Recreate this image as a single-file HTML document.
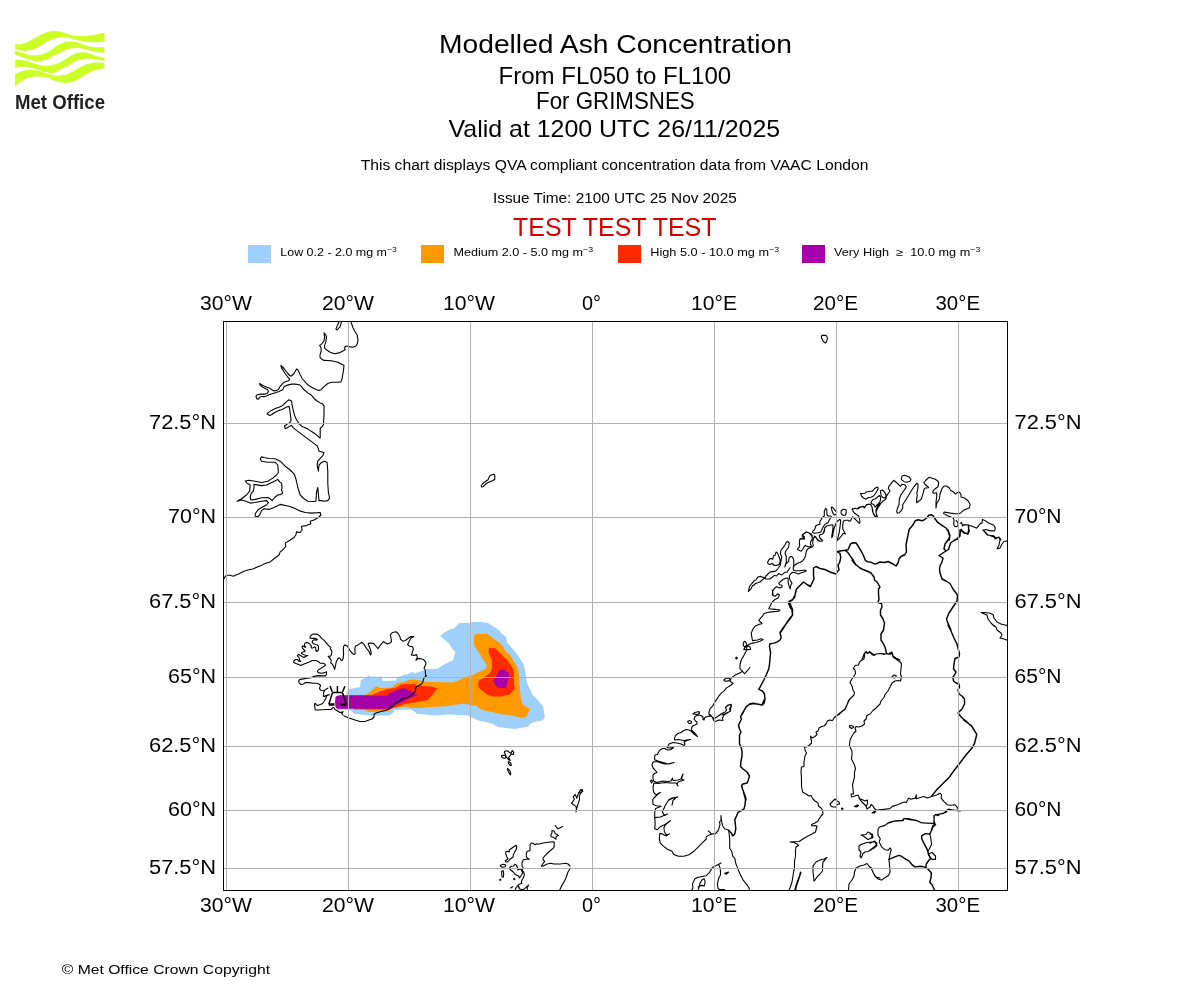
<!DOCTYPE html>
<html><head><meta charset="utf-8"><style>
html,body{margin:0;padding:0;background:#fff;}
body{width:1200px;height:1000px;overflow:hidden;position:relative;}
svg{position:absolute;left:0;top:0;font-family:"Liberation Sans", sans-serif;will-change:transform;}
</style></head><body>
<svg width="1200" height="1000" viewBox="0 0 1200 1000">
<g fill="#cbff26"><path d="M15.1 44.1C15.82 44.15 17.85 44.55 19.40 44.40C20.95 44.25 22.73 43.77 24.40 43.20C26.07 42.63 27.75 41.77 29.40 41.00C31.05 40.23 32.65 39.50 34.30 38.60C35.95 37.70 37.63 36.48 39.30 35.60C40.97 34.72 42.65 34.00 44.30 33.30C45.95 32.60 47.55 31.77 49.20 31.40C50.85 31.03 52.55 31.10 54.20 31.10C55.85 31.10 57.63 31.20 59.10 31.40C60.57 31.60 61.53 31.88 63.00 32.30C64.47 32.72 66.25 33.38 67.90 33.90C69.55 34.42 71.23 35.03 72.90 35.40C74.57 35.77 76.25 35.98 77.90 36.10C79.55 36.22 81.15 36.15 82.80 36.10C84.45 36.05 86.15 35.97 87.80 35.80C89.45 35.63 91.05 35.37 92.70 35.10C94.35 34.83 96.25 34.50 97.70 34.20C99.15 33.90 100.27 33.55 101.40 33.30C102.53 33.05 103.98 32.80 104.50 32.70L104.5 41.3C103.78 41.42 101.75 41.83 100.20 42.00C98.65 42.17 96.85 42.25 95.20 42.30C93.55 42.35 91.95 42.42 90.30 42.30C88.65 42.18 86.97 41.87 85.30 41.60C83.63 41.33 81.95 41.05 80.30 40.70C78.65 40.35 77.05 39.92 75.40 39.50C73.75 39.08 72.07 38.57 70.40 38.20C68.73 37.83 67.05 37.45 65.40 37.30C63.75 37.15 61.55 37.27 60.50 37.30C59.45 37.33 60.15 37.23 59.10 37.50C58.05 37.77 55.85 38.42 54.20 38.90C52.55 39.38 50.85 39.68 49.20 40.40C47.55 41.12 45.95 42.17 44.30 43.20C42.65 44.23 40.97 45.62 39.30 46.60C37.63 47.58 35.95 48.48 34.30 49.10C32.65 49.72 31.05 49.98 29.40 50.30C27.75 50.62 26.07 51.00 24.40 51.00C22.73 51.00 20.95 50.62 19.40 50.30C17.85 49.98 15.82 49.30 15.10 49.10Z"/><path d="M15.1 50.6C15.82 50.82 17.85 51.43 19.40 51.90C20.95 52.37 22.73 52.93 24.40 53.40C26.07 53.87 27.75 54.38 29.40 54.70C31.05 55.02 32.65 55.25 34.30 55.30C35.95 55.35 37.63 55.32 39.30 55.00C40.97 54.68 42.65 54.07 44.30 53.40C45.95 52.73 47.55 51.92 49.20 51.00C50.85 50.08 52.73 48.95 54.20 47.90C55.67 46.85 56.53 45.53 58.00 44.70C59.47 43.87 61.35 43.42 63.00 42.90C64.65 42.38 66.25 41.82 67.90 41.60C69.55 41.38 71.23 41.43 72.90 41.60C74.57 41.77 76.25 42.13 77.90 42.60C79.55 43.07 81.15 43.83 82.80 44.40C84.45 44.97 86.15 45.58 87.80 46.00C89.45 46.42 91.05 46.70 92.70 46.90C94.35 47.10 96.25 47.15 97.70 47.20C99.15 47.25 100.27 47.20 101.40 47.20C102.53 47.20 103.98 47.20 104.50 47.20L104.5 52.8C103.78 52.75 101.75 52.65 100.20 52.50C98.65 52.35 96.85 52.22 95.20 51.90C93.55 51.58 91.95 51.02 90.30 50.60C88.65 50.18 86.97 49.80 85.30 49.40C83.63 49.00 81.95 48.45 80.30 48.20C78.65 47.95 77.05 47.85 75.40 47.90C73.75 47.95 72.07 48.10 70.40 48.50C68.73 48.90 67.05 49.58 65.40 50.30C63.75 51.02 61.73 52.17 60.50 52.80C59.27 53.43 59.05 53.68 58.00 54.10C56.95 54.52 55.67 54.58 54.20 55.30C52.73 56.02 50.85 57.57 49.20 58.40C47.55 59.23 45.95 59.83 44.30 60.30C42.65 60.77 40.97 61.10 39.30 61.20C37.63 61.30 35.95 61.17 34.30 60.90C32.65 60.63 31.05 60.12 29.40 59.60C27.75 59.08 26.07 58.42 24.40 57.80C22.73 57.18 20.95 56.42 19.40 55.90C17.85 55.38 15.82 54.90 15.10 54.70Z"/><path d="M15.1 59.9C15.82 59.90 17.85 59.78 19.40 59.90C20.95 60.02 22.73 60.28 24.40 60.60C26.07 60.92 27.75 61.33 29.40 61.80C31.05 62.27 32.65 62.88 34.30 63.40C35.95 63.92 37.63 64.50 39.30 64.90C40.97 65.30 42.65 65.65 44.30 65.80C45.95 65.95 47.55 66.00 49.20 65.80C50.85 65.60 52.73 65.02 54.20 64.60C55.67 64.18 56.53 63.92 58.00 63.30C59.47 62.68 61.35 61.87 63.00 60.90C64.65 59.93 66.25 58.53 67.90 57.50C69.55 56.47 71.23 55.48 72.90 54.70C74.57 53.92 76.25 53.22 77.90 52.80C79.55 52.38 81.15 52.20 82.80 52.20C84.45 52.20 86.15 52.38 87.80 52.80C89.45 53.22 91.05 54.08 92.70 54.70C94.35 55.32 96.25 56.03 97.70 56.50C99.15 56.97 100.27 57.28 101.40 57.50C102.53 57.72 103.98 57.75 104.50 57.80L104.5 60.9C103.78 60.80 101.75 60.57 100.20 60.30C98.65 60.03 96.85 59.57 95.20 59.30C93.55 59.03 91.95 58.80 90.30 58.70C88.65 58.60 86.97 58.55 85.30 58.70C83.63 58.85 81.95 59.13 80.30 59.60C78.65 60.07 77.05 60.72 75.40 61.50C73.75 62.28 72.07 63.37 70.40 64.30C68.73 65.23 67.05 66.22 65.40 67.10C63.75 67.98 61.73 68.98 60.50 69.60C59.27 70.22 59.05 70.28 58.00 70.80C56.95 71.32 55.67 72.38 54.20 72.70C52.73 73.02 50.85 72.87 49.20 72.70C47.55 72.53 45.95 72.12 44.30 71.70C42.65 71.28 40.97 70.72 39.30 70.20C37.63 69.68 35.95 69.07 34.30 68.60C32.65 68.13 31.05 67.70 29.40 67.40C27.75 67.10 26.07 66.85 24.40 66.80C22.73 66.75 20.95 66.85 19.40 67.10C17.85 67.35 15.82 68.10 15.10 68.30Z"/><path d="M15.1 74.2C15.82 73.83 17.85 72.62 19.40 72.00C20.95 71.38 22.73 70.85 24.40 70.50C26.07 70.15 27.75 69.95 29.40 69.90C31.05 69.85 32.65 70.00 34.30 70.20C35.95 70.40 37.63 70.68 39.30 71.10C40.97 71.52 42.65 72.18 44.30 72.70C45.95 73.22 47.55 73.73 49.20 74.20C50.85 74.67 52.73 75.23 54.20 75.50C55.67 75.77 56.53 75.87 58.00 75.80C59.47 75.73 61.35 75.42 63.00 75.10C64.65 74.78 66.25 74.52 67.90 73.90C69.55 73.28 71.23 72.33 72.90 71.40C74.57 70.47 76.25 69.23 77.90 68.30C79.55 67.37 81.15 66.52 82.80 65.80C84.45 65.08 86.15 64.52 87.80 64.00C89.45 63.48 91.05 62.97 92.70 62.70C94.35 62.43 96.25 62.40 97.70 62.40C99.15 62.40 100.27 62.53 101.40 62.70C102.53 62.87 103.98 63.28 104.50 63.40L104.5 68.3C103.78 68.40 101.75 68.58 100.20 68.90C98.65 69.22 96.85 69.68 95.20 70.20C93.55 70.72 91.95 71.18 90.30 72.00C88.65 72.82 86.97 74.07 85.30 75.10C83.63 76.13 81.95 77.27 80.30 78.20C78.65 79.13 77.05 80.02 75.40 80.70C73.75 81.38 72.07 81.93 70.40 82.30C68.73 82.67 67.05 82.90 65.40 82.90C63.75 82.90 61.73 82.47 60.50 82.30C59.27 82.13 59.05 82.20 58.00 81.90C56.95 81.60 55.67 81.12 54.20 80.50C52.73 79.88 50.85 78.78 49.20 78.20C47.55 77.62 45.95 77.30 44.30 77.00C42.65 76.70 40.97 76.45 39.30 76.40C37.63 76.35 35.95 76.50 34.30 76.70C32.65 76.90 31.05 77.13 29.40 77.60C27.75 78.07 26.07 78.67 24.40 79.50C22.73 80.33 20.95 81.37 19.40 82.60C17.85 83.83 15.82 86.18 15.10 86.90Z"/></g><text x="15" y="108.9" font-size="21" font-weight="bold" fill="#231f20" textLength="90" lengthAdjust="spacingAndGlyphs">Met Office</text>
<text x="439.0" y="53.0" font-size="26.0" text-anchor="start" fill="#000" textLength="353.0" lengthAdjust="spacingAndGlyphs">Modelled Ash Concentration</text><text x="498.45" y="84.0" font-size="23.6" text-anchor="start" fill="#000" textLength="232.75" lengthAdjust="spacingAndGlyphs">From FL050 to FL100</text><text x="536.0" y="109.28" font-size="23.6" text-anchor="start" fill="#000" textLength="158.7" lengthAdjust="spacingAndGlyphs">For GRIMSNES</text><text x="448.5" y="136.64" font-size="23.6" text-anchor="start" fill="#000" textLength="331.7" lengthAdjust="spacingAndGlyphs">Valid at 1200 UTC 26/11/2025</text><text x="360.7" y="170.42" font-size="13.8" text-anchor="start" fill="#000" textLength="507.8" lengthAdjust="spacingAndGlyphs">This chart displays QVA compliant concentration data from VAAC London</text><text x="493.0" y="203.42" font-size="13.8" text-anchor="start" fill="#000" textLength="243.7" lengthAdjust="spacingAndGlyphs">Issue Time: 2100 UTC 25 Nov 2025</text><text x="513.0" y="236.42" font-size="25.2" text-anchor="start" fill="#d90000" textLength="203.5" lengthAdjust="spacingAndGlyphs">TEST TEST TEST</text><text x="61.75" y="974.42" font-size="13.4" text-anchor="start" fill="#000" textLength="208.25" lengthAdjust="spacingAndGlyphs">© Met Office Crown Copyright</text><text x="200.0" y="309.96" font-size="19.6" text-anchor="start" fill="#000" textLength="52.0" lengthAdjust="spacingAndGlyphs">30°W</text><text x="200.0" y="911.96" font-size="19.6" text-anchor="start" fill="#000" textLength="52.0" lengthAdjust="spacingAndGlyphs">30°W</text><text x="322.0" y="309.96" font-size="19.6" text-anchor="start" fill="#000" textLength="52.0" lengthAdjust="spacingAndGlyphs">20°W</text><text x="322.0" y="911.96" font-size="19.6" text-anchor="start" fill="#000" textLength="52.0" lengthAdjust="spacingAndGlyphs">20°W</text><text x="443.0" y="309.96" font-size="19.6" text-anchor="start" fill="#000" textLength="52.0" lengthAdjust="spacingAndGlyphs">10°W</text><text x="443.0" y="911.96" font-size="19.6" text-anchor="start" fill="#000" textLength="52.0" lengthAdjust="spacingAndGlyphs">10°W</text><text x="582.0" y="309.96" font-size="19.6" text-anchor="start" fill="#000" textLength="19.0" lengthAdjust="spacingAndGlyphs">0°</text><text x="582.0" y="911.96" font-size="19.6" text-anchor="start" fill="#000" textLength="19.0" lengthAdjust="spacingAndGlyphs">0°</text><text x="691.0" y="309.96" font-size="19.6" text-anchor="start" fill="#000" textLength="46.0" lengthAdjust="spacingAndGlyphs">10°E</text><text x="691.0" y="911.96" font-size="19.6" text-anchor="start" fill="#000" textLength="46.0" lengthAdjust="spacingAndGlyphs">10°E</text><text x="813.0" y="309.96" font-size="19.6" text-anchor="start" fill="#000" textLength="45.0" lengthAdjust="spacingAndGlyphs">20°E</text><text x="813.0" y="911.96" font-size="19.6" text-anchor="start" fill="#000" textLength="45.0" lengthAdjust="spacingAndGlyphs">20°E</text><text x="935.5" y="309.96" font-size="19.6" text-anchor="start" fill="#000" textLength="44.5" lengthAdjust="spacingAndGlyphs">30°E</text><text x="935.5" y="911.96" font-size="19.6" text-anchor="start" fill="#000" textLength="44.5" lengthAdjust="spacingAndGlyphs">30°E</text><text x="149.0" y="428.98" font-size="19.6" text-anchor="start" fill="#000" textLength="67.0" lengthAdjust="spacingAndGlyphs">72.5°N</text><text x="1014.5" y="428.98" font-size="19.6" text-anchor="start" fill="#000" textLength="67.0" lengthAdjust="spacingAndGlyphs">72.5°N</text><text x="168.0" y="522.98" font-size="19.6" text-anchor="start" fill="#000" textLength="48.0" lengthAdjust="spacingAndGlyphs">70°N</text><text x="1014.5" y="522.98" font-size="19.6" text-anchor="start" fill="#000" textLength="47.0" lengthAdjust="spacingAndGlyphs">70°N</text><text x="149.0" y="607.98" font-size="19.6" text-anchor="start" fill="#000" textLength="67.0" lengthAdjust="spacingAndGlyphs">67.5°N</text><text x="1014.5" y="607.98" font-size="19.6" text-anchor="start" fill="#000" textLength="67.0" lengthAdjust="spacingAndGlyphs">67.5°N</text><text x="168.0" y="682.98" font-size="19.6" text-anchor="start" fill="#000" textLength="48.0" lengthAdjust="spacingAndGlyphs">65°N</text><text x="1014.5" y="682.98" font-size="19.6" text-anchor="start" fill="#000" textLength="47.0" lengthAdjust="spacingAndGlyphs">65°N</text><text x="149.0" y="751.98" font-size="19.6" text-anchor="start" fill="#000" textLength="67.0" lengthAdjust="spacingAndGlyphs">62.5°N</text><text x="1014.5" y="751.98" font-size="19.6" text-anchor="start" fill="#000" textLength="67.0" lengthAdjust="spacingAndGlyphs">62.5°N</text><text x="168.0" y="815.98" font-size="19.6" text-anchor="start" fill="#000" textLength="48.0" lengthAdjust="spacingAndGlyphs">60°N</text><text x="1014.5" y="815.98" font-size="19.6" text-anchor="start" fill="#000" textLength="47.0" lengthAdjust="spacingAndGlyphs">60°N</text><text x="149.0" y="873.98" font-size="19.6" text-anchor="start" fill="#000" textLength="67.0" lengthAdjust="spacingAndGlyphs">57.5°N</text><text x="1014.5" y="873.98" font-size="19.6" text-anchor="start" fill="#000" textLength="67.0" lengthAdjust="spacingAndGlyphs">57.5°N</text>
<rect x="248" y="245" width="23" height="18" fill="#9fd0fc"/><text x="280.3" y="255.9" font-size="10.6" textLength="116.6" lengthAdjust="spacingAndGlyphs" style="white-space:pre">Low 0.2 - 2.0 mg m<tspan dy="-4.2" font-size="7.4">−3</tspan></text><rect x="421" y="245" width="23" height="18" fill="#ff9900"/><text x="453.5" y="255.9" font-size="10.6" textLength="139.6" lengthAdjust="spacingAndGlyphs" style="white-space:pre">Medium 2.0 - 5.0 mg m<tspan dy="-4.2" font-size="7.4">−3</tspan></text><rect x="618" y="245" width="23" height="18" fill="#ff2a00"/><text x="650.3" y="255.9" font-size="10.6" textLength="128.8" lengthAdjust="spacingAndGlyphs" style="white-space:pre">High 5.0 - 10.0 mg m<tspan dy="-4.2" font-size="7.4">−3</tspan></text><rect x="802" y="245" width="23" height="18" fill="#a700aa"/><text x="834.0" y="255.9" font-size="10.6" textLength="146.4" lengthAdjust="spacingAndGlyphs" style="white-space:pre">Very High  ≥  10.0 mg m<tspan dy="-4.2" font-size="7.4">−3</tspan></text>
<defs><clipPath id="mapclip"><rect x="224" y="322" width="783" height="568"/></clipPath></defs>
<g clip-path="url(#mapclip)">
<path d="M347 696 L346.5 692 L349 689 L355 688 L360 687 L361 679.5 L367 677.5 L368 675 L370 676.5 L379 677 L380 676 L382 677 L382 678.5 L383 681 L396 680.5 L397 678 L401 676 L408 674 L412 672 L415 673 L419 672 L424 670 L428 669 L437 669 L443 665 L449 662 L453 660.5 L454 657 L455.5 652 L453 649.5 L450.5 646 L449 643.5 L443 638.5 L440 636 L443 633.5 L448.5 630 L454 628.5 L459.5 623 L470 623 L472 622 L481 622 L488 623 L494 627 L499 630 L501 633 L506 637 L507 642 L510 646 L515 651.5 L519 657 L524 665 L525.5 672 L526 677 L527 683 L530 689 L532 694 L536 698 L540 703 L543 706 L544 712 L545 717 L543 720 L540 721 L534 722 L530 724 L528 727 L520 728 L515 729 L506 728 L498 727 L493 724 L486 722 L480 721 L475 719 L470 717 L468 715.5 L459 715 L450 714.5 L440 715 L433 715.5 L425 714.5 L417 714 L415 712 L411 709.5 L394 710 L394 712 L389 715.5 L372 715.5 L365 715 L355 714 L351 711 L349 709.9 L337 709.9 L337 696Z" fill="#9fd0fc"/><path d="M364 695 L367 694 L370 692 L374 688 L376 686.5 L377 686.5 L380 688 L385 688 L392 687.5 L395 684.5 L397 683 L404 682 L410 679.5 L415 679.5 L422 681 L425 682 L430 682 L453 682.5 L457 681 L461 679 L467 676.5 L470 676 L473 675 L477 672.5 L482 670.5 L484.5 669.5 L487 666 L486.5 665 L484 661 L482 658 L480 654 L477 650 L474 645 L474 636 L476 634 L487.5 634 L490 636 L494 639 L500 643 L503 647 L506 652 L510 655 L513 660 L516 665 L518 670 L519 675 L519 677 L520 690 L521 700 L523 705 L530 709 L529 711 L526 717 L523 718 L516 716.5 L512 715.5 L500 714 L492 712 L486 711 L480 709 L476 705.5 L472 705.5 L470 705 L463 703.5 L461 704 L453 705 L445 706.5 L440 706.5 L425 707.5 L421 708 L412 708 L405 706.5 L395 708 L391 709 L390 710 L389 711.5 L381 712 L371 712 L367 711.5 L366 710 L365 709Z" fill="#ff9900"/><path d="M338 694.9 L372 694.9 L374 694 L381 691 L385 690 L387 689 L395 688 L398 686.5 L401 684.5 L405 684 L412 684 L415 684 L418 686 L424 686 L431 686.5 L438 688.5 L435 691 L433 694 L428 700 L420 701.5 L405 704 L400 706 L393 708 L389 709.6 L354 709.6 L354 708.5 L340 696Z" fill="#ff2a00"/><path d="M489 648 L495 648 L500 653 L507 660 L510 664 L513 669 L514 675 L514 685 L515 688.5 L509 695 L504 695.5 L502 696.5 L493 696.5 L488 695 L485 693 L479 688 L478 685 L479 680 L482 679 L486 676 L490 673 L491.5 670 L492 665 L492 661 L490 656 L488.5 652Z" fill="#ff2a00"/><path d="M337 695.8 L387 695.8 L390 693 L395 691 L401 688.5 L405 688.5 L408 690 L412 692 L415 694 L418 695.3 L415 696 L408 699 L403 702 L395 705 L389 708.8 L337 708.8 L335.5 707 L335 702 L335.5 697Z" fill="#a700aa"/><path d="M500 669.5 L504.5 669.5 L509 673.5 L509 678 L507.5 681 L507 685 L505 688 L498 688 L494 683 L493 680.5 L496.5 676 L499 671Z" fill="#a700aa"/>
<path d="M350.9 321.6 L352.8 327.2 L354.6 331.0 L357.1 334.8 L358.0 339.8 L357.5 343.5 L355.9 346.0 L352.8 347.2 L349.0 346.6 L347.1 346.0 L345.2 346.6 L344.6 348.5 L345.2 349.8 L342.8 351.0 L339.0 352.9 L334.6 353.8 L330.2 352.2 L326.5 349.8 L324.6 347.9 L324.6 345.4 L325.9 341.6 L326.5 336.6 L325.2 334.1 L324.0 332.9 L324.6 337.2 L324.0 341.0 L321.5 344.1 L319.6 345.4 L320.9 347.2 L321.2 351.0 L320.0 354.8 L320.0 357.2 L321.5 359.1 L324.0 360.4 L331.5 360.8 L337.8 362.2 L344.0 365.4 L343.4 371.0 L342.1 378.5 L340.9 381.9 L336.5 382.2 L331.5 382.2 L327.8 383.5 L324.0 386.6 L320.9 389.8 L319.0 390.4 L316.5 389.8 L311.5 387.2 L307.8 384.8 L302.1 378.5 L300.2 374.8 L297.8 369.8 L296.5 369.1 L294.0 373.5 L291.5 376.0 L290.2 376.0 L287.8 373.5 L284.0 368.5 L280.9 365.4 L281.5 367.9 L285.2 373.5 L287.8 377.2 L289.6 379.1 L289.0 380.4 L284.0 382.2 L281.5 384.8 L279.6 387.2 L278.4 389.5 L276.5 390.4 L274.0 391.0 L271.5 389.5 L269.0 387.9 L264.0 386.0 L260.2 384.1 L259.6 383.5 L260.2 385.4 L262.8 387.2 L267.8 389.8 L268.4 391.6 L267.1 393.5 L265.2 394.1 L260.9 394.1 L257.1 394.8 L255.9 396.6 L257.1 399.1 L258.4 399.1 L259.6 397.2 L261.5 396.6 L264.6 396.6 L266.5 396.0 L269.0 394.8 L274.0 393.2 L279.0 391.6 L282.8 389.8 L284.0 386.6 L286.5 385.4 L291.5 384.1 L295.2 384.1 L299.6 384.8 L301.5 386.6 L304.0 389.8 L307.8 392.9 L310.9 394.8 L312.8 396.6 L314.0 398.5 L317.1 401.0 L320.2 402.9 L322.8 404.1 L324.0 406.0 L324.0 416.0 L323.4 424.8 L322.1 426.6 L320.2 428.5 L320.2 433.5 L320.2 437.9 L319.0 437.2 L316.5 434.8 L312.8 432.2 L307.8 429.1 L304.0 427.2 L302.1 426.6 L299.0 423.5 L296.5 419.8 L294.6 415.4 L293.4 411.0 L292.1 404.8 L291.5 401.0 L289.0 399.8 L286.5 401.6 L284.6 403.5 L282.8 405.4 L279.0 407.2 L275.2 408.5 L271.5 410.4 L267.8 412.9 L267.1 414.1 L269.6 415.4 L271.5 414.8 L275.2 412.2 L279.0 410.4 L281.5 409.8 L284.0 408.5 L286.5 407.0 L289.0 406.4 L289.6 408.5 L290.2 413.5 L290.9 418.5 L290.9 421.0 L289.6 422.9 L287.1 424.1 L284.6 426.0 L285.2 428.5 L286.5 428.2 L289.0 426.6 L291.5 425.4 L293.4 427.9 L296.5 430.4 L301.5 434.1 L306.5 437.9 L311.5 441.6 L316.5 445.4M339.0 321.6 L335.9 329.1 L337.1 330.0 L340.2 326.6 L341.5 321.6M317.1 445.6 L318.4 448.8 L319.0 451.2 L324.0 452.5 L322.8 455.6 L317.8 461.2 L317.1 465.0 L318.4 471.2 L319.0 465.0 L321.5 462.5 L324.6 461.2 L327.1 462.5 L327.8 471.2 L327.8 483.8 L328.4 492.5 L329.6 498.1 L327.8 500.6 L324.0 501.2 L321.5 500.6 L319.0 500.6 L317.8 487.5 L316.5 492.5 L315.9 501.2 L314.0 501.5 L307.8 501.2 L304.0 498.8 L300.2 495.0 L297.8 487.5 L295.9 478.8 L294.0 473.8 L290.2 470.0 L285.2 466.2 L280.2 461.2 L275.2 458.8 L269.0 458.5 L264.0 457.5 L261.5 456.9 L260.2 458.8 L261.5 461.2 L267.8 462.2 L275.2 462.2 L277.8 465.0 L278.4 472.5 L276.5 475.0 L272.8 478.1 L267.8 481.2 L261.5 482.5 L255.2 481.2 L249.0 480.2 L245.2 481.0 L247.1 483.1 L250.2 485.0 L249.6 491.2 L246.5 495.0 L241.5 498.8 L237.1 501.2 L241.5 500.0 L245.9 501.2 L250.2 503.1 L255.2 502.5 L261.5 501.2 L266.5 500.6 L268.4 502.5 L266.5 505.0 L261.5 507.5 L257.8 510.0 L255.2 513.8 L255.2 516.2 L257.8 516.9 L259.6 515.0 L261.5 510.6 L264.0 508.8 L269.0 509.4 L274.0 507.5 L280.2 504.4 L289.0 506.2 L294.0 508.1 L299.0 510.6 L305.2 512.5 L311.5 513.1 L320.2 512.5 L320.9 515.0 L318.4 517.5 L314.0 520.0 L310.2 521.2 L310.9 523.8 L306.5 525.6 L301.5 526.2 L302.1 530.0 L300.2 532.5 L296.5 531.9 L295.9 535.0 L294.0 537.5 L290.2 540.0 L285.2 543.1 L285.9 546.2 L282.8 550.0 L280.2 551.9 L279.0 555.0 L274.0 558.8 L270.2 561.9 L266.5 563.1 L262.8 564.4M254.0 484.4 L261.5 485.6 L266.5 485.0 L272.8 481.9 L277.8 479.4 L279.6 481.9 L281.5 483.1 L282.1 487.5 L281.5 490.0 L282.8 493.1 L280.9 494.4 L277.8 495.0 L274.6 497.5 L272.1 500.6 L270.2 498.8 L267.8 497.5 L261.5 497.8 L255.2 499.4 L250.9 500.0 L250.2 497.5 L250.9 493.8 L253.4 491.2 L254.0 487.5 L254.0 484.4ZM262.0 565.3 L258.0 566.7 L252.7 569.0 L248.7 569.7 L244.0 571.3 L238.7 574.0 L235.3 575.3 L233.3 576.3 L230.0 575.3 L227.0 575.3 L225.3 576.3 L224.0 578.7M344.9 644.8 L343.6 646.4 L343.3 649.8 L343.6 653.8 L343.3 657.8 L342.3 660.5 L340.9 659.8 L339.9 658.2 L338.9 657.8 L337.6 659.2 L336.2 661.9 L335.6 665.2 L334.6 669.6 L333.6 666.5 L332.2 663.9 L330.9 663.2 L331.2 660.5 L330.2 658.5 L328.5 656.8 L328.2 656.2 L330.5 656.2 L331.5 654.5 L331.9 651.8 L331.2 649.8 L330.2 649.1 L330.9 647.4 L328.9 645.8 L327.5 644.4 L326.2 642.8 L324.2 640.4 L321.5 638.4 L319.5 635.7 L317.5 634.4 L314.8 634.0 L312.1 634.4 L310.1 636.7 L310.1 638.1 L313.5 638.4 L315.5 638.4 L317.5 639.4 L316.8 640.1 L314.1 639.7 L312.8 640.4 L312.1 641.8 L313.1 643.4 L315.5 644.4 L317.5 645.1 L318.5 646.4 L318.5 649.1 L318.1 650.5 L316.8 651.5 L315.8 650.5 L315.8 647.8 L314.8 646.8 L313.1 647.8 L311.8 648.1 L311.1 647.4 L311.4 645.8 L310.1 644.4 L308.1 642.8 L306.1 642.4 L304.7 643.4 L304.4 645.1 L305.7 647.1 L304.7 647.1 L302.7 645.8 L302.1 646.8 L302.7 648.5 L304.7 650.5 L305.1 651.5 L303.4 651.8 L301.7 652.5 L301.4 653.5 L303.4 654.5 L305.4 655.2 L307.8 655.5 L305.4 656.5 L304.1 657.5 L302.1 656.5 L300.1 655.2 L299.0 654.5 L298.0 654.8 L297.4 655.8 L298.7 657.2 L299.4 658.5 L299.4 660.2 L300.7 661.5 L298.7 661.2 L297.4 659.5 L295.4 659.5 L293.7 661.2 L293.7 662.5 L296.0 663.5 L298.7 664.5 L300.7 665.5 L303.4 664.2 L306.1 663.2 L309.4 661.9 L312.1 660.5 L314.8 660.5 L316.8 660.8 L318.8 661.9 L320.2 663.2 L322.8 663.2 L324.8 663.9 L325.5 665.2 L324.2 666.2 L321.5 667.9 L319.5 669.2 L317.8 670.6 L317.5 671.9 L318.8 672.9 L321.5 673.2 L323.5 672.9 L325.5 672.2 L326.5 671.9 L326.5 673.9 L325.5 675.9 L322.2 675.9 L318.1 675.6 L313.5 676.6 L310.1 677.9 L306.8 678.3 L303.4 678.9 L299.4 679.6 L298.7 681.3 L299.4 683.3 L301.1 684.6 L303.4 684.0 L305.4 682.6 L308.8 682.6 L313.5 683.3 L316.8 683.3 L318.8 684.0 L320.5 685.3M320.5 685.5 L320.0 687.0 L319.5 688.0 L320.0 689.5 L321.5 690.5 L323.5 690.8 L325.0 690.0 L326.5 689.0 L328.0 688.0 L325.0 690.0 L324.0 691.5 L323.5 693.0 L323.8 695.0 L323.2 696.2 L324.5 696.5 L326.0 695.5 L327.5 695.0 L329.5 694.8 L327.0 695.5 L326.5 696.5 L325.5 699.0 L324.0 701.5 L322.5 703.5 L320.5 704.5 L317.5 705.5 L316.0 704.5 L315.2 703.2 L314.5 704.0 L314.8 707.0 L315.2 710.0 L317.5 710.0 L322.5 709.8 L327.5 709.5 L331.0 709.5 L332.5 708.0 L333.8 707.5 L334.5 708.5 L335.0 709.5 L337.5 711.0 L340.0 712.5 L342.0 712.0 L343.2 711.8 L341.5 713.0 L343.0 715.0M344.0 716.0 L349.0 718.0 L355.0 720.0 L360.0 721.5 L365.0 721.5 L369.0 720.0 L372.0 719.0 L374.0 717.0 L374.0 714.5 L376.0 713.0 L381.0 711.5 L385.0 710.5 L389.0 709.0 L391.0 707.5 L395.0 704.0 L399.0 701.0 L404.0 698.0 L408.0 697.5 L411.0 695.0 L414.0 693.0 L415.5 691.0 L415.5 689.0 L416.5 686.5 L419.0 685.5 L421.5 684.0 L423.0 681.5 L423.5 679.0 L425.0 677.0 L426.5 675.5M345.0 644.9 L347.3 646.0 L349.5 649.8 L351.8 652.8 L354.0 654.6 L355.1 653.9 L354.8 649.0 L355.5 646.0 L358.1 644.9 L361.9 642.3 L363.8 644.1 L366.4 648.3 L369.0 651.3 L370.5 655.0 L371.3 653.5 L370.5 649.8 L369.0 646.0 L368.3 643.4 L370.5 643.0 L373.5 643.4 L375.8 646.0 L378.0 648.6 L380.3 645.3 L383.3 641.5 L385.5 643.0 L387.4 644.1 L390.0 643.0 L391.5 641.5 L391.1 638.5 L390.4 634.8 L392.3 632.5 L396.0 631.8 L397.9 633.3 L399.8 636.3 L400.5 639.3 L402.8 641.1 L405.0 640.8 L408.0 638.5 L410.3 636.6 L414.0 636.6 L411.0 638.1 L409.5 640.8 L407.6 644.5 L409.1 646.0 L412.5 646.8 L413.3 649.0 L412.5 652.0 L411.4 655.0 L414.0 655.4 L416.6 654.6 L417.4 657.3 L415.9 660.3 L417.8 658.8 L420.0 658.4 L423.4 659.5 L425.6 661.8 L426.0 664.0 L424.5 667.0 L424.1 668.5 L425.3 670.0 L425.3 673.0 L426.0 676.0M481.5 487.0 L481.2 485.5 L482.5 484.0 L484.5 482.2 L486.5 480.8 L488.0 479.8 L489.0 477.5 L490.0 475.5 L492.0 474.8 L494.2 474.2 L494.8 475.5 L494.8 479.2 L493.0 480.5 L490.5 481.5 L488.2 482.5 L486.5 483.5 L484.5 485.2 L483.0 486.8 L481.5 487.0ZM822.0 335.4 L825.8 335.4 L826.8 336.4 L827.4 338.4 L826.8 341.0 L825.6 343.0 L824.4 342.4 L823.0 340.8 L822.2 339.0 L821.4 338.0 L821.4 336.4 L822.0 335.4ZM504.6 751.2 L507.4 750.8 L509.0 752.0 L511.0 753.2 L512.2 750.4 L513.8 752.4 L513.4 754.4 L511.4 754.0 L509.4 756.4 L508.6 757.6 L509.8 759.6 L510.2 760.4 L509.0 760.0 L507.4 758.4 L506.2 756.8 L505.4 754.4 L504.4 752.4 L504.6 751.2ZM501.4 755.6 L503.8 755.2 L505.8 756.4 L505.4 758.0 L503.8 758.4 L501.8 757.2 L501.4 755.6ZM508.6 761.6 L510.6 762.8 L511.4 765.2 L510.6 765.6 L509.0 764.0 L508.2 762.4 L508.6 761.6ZM507.4 768.4 L509.8 770.4 L510.8 774.0 L510.2 774.8 L508.6 772.0 L507.4 769.6 L507.4 768.4ZM576.0 812.0 L576.8 808.0 L578.4 803.2 L579.6 799.2 L579.2 796.0 L581.6 792.0 L582.4 789.6 L580.8 789.6 L579.2 792.0 L577.6 795.2 L576.8 798.4 L575.2 794.4 L573.2 796.8 L574.4 799.2 L572.8 801.6 L571.6 803.2 L573.6 804.8 L576.0 806.4 L576.4 808.8 L576.0 812.0M578.4 792.8 L581.6 789.6 L582.8 791.2 L580.8 792.8 L578.4 792.8ZM552.0 830.4 L554.4 831.2 L555.2 833.6 L558.4 835.2 L556.0 836.8 L556.0 839.2 L553.6 837.6 L551.2 836.8 L550.8 835.2 L552.0 832.8 L552.0 830.4ZM555.2 825.6 L558.0 828.8 L559.6 828.0 L562.8 826.6M559.7 890.0 L562.0 885.3 L564.7 880.7 L566.7 876.0 L568.0 872.0 L570.0 868.7M570.0 866.0 L568.0 864.0 L566.0 863.3 L560.0 864.0 L554.0 864.0 L550.7 863.3 L547.3 864.0 L544.7 865.3 L542.7 866.3 L541.3 866.3 L542.7 864.0 L544.7 861.3 L543.3 860.0 L543.0 858.0 L545.3 855.3 L548.7 852.0 L552.0 849.3 L554.0 847.3 L554.3 842.0 L552.7 841.7 L548.0 842.3 L543.3 843.0 L538.0 844.3 L536.7 843.7 L534.7 844.7 L533.3 843.3 L531.3 843.0 L530.0 844.7 L530.0 847.3 L530.0 850.7 L527.3 851.3 L526.3 853.3 L526.3 856.7 L527.3 858.0 L529.3 859.3 L526.0 859.3 L523.3 859.7 L522.0 862.7 L522.0 866.0 L523.3 868.0 L522.0 870.0 L524.0 872.7 L524.3 875.3 L523.3 878.0 L522.0 880.0 L521.3 882.0 L522.0 883.3 L520.0 884.0 L518.0 885.3 L518.7 887.3 L519.3 888.7 L521.3 889.7 L524.0 889.3 L526.0 887.3 L528.7 885.0 L527.3 887.3 L527.3 890.0M509.3 868.7 L510.7 870.0 L513.3 872.0 L514.7 874.0 L516.7 875.3 L518.7 876.0 L519.3 878.0 L521.3 875.3 L522.7 873.3 L522.0 871.3 L521.0 869.3 L519.3 869.3 L518.0 870.0 L517.3 867.3 L516.3 865.0 L514.7 864.3 L513.7 866.0 L511.3 866.3 L510.0 867.3 L509.3 868.7ZM506.0 862.0 L505.3 860.7 L508.0 858.7 L506.7 856.7 L505.7 853.3 L505.7 852.0 L507.3 851.3 L509.3 852.0 L509.3 850.0 L512.0 848.0 L516.0 845.3 L516.7 846.7 L516.3 849.3 L514.7 852.0 L513.3 854.7 L513.3 856.7 L510.0 859.3 L507.3 862.0 L506.0 862.0ZM500.3 865.3 L503.3 864.3 L505.7 865.0 L505.3 866.7 L502.7 867.3 L500.7 866.3 L500.3 865.3ZM501.7 871.0 L503.3 870.7 L503.7 874.0 L503.3 877.3 L502.0 877.0 L501.7 874.0 L501.7 871.0ZM515.3 889.7 L516.0 887.7 L518.0 885.7 L519.3 887.3M510.7 888.0 L512.7 886.7M748.4 591.4 L749.5 586.5 L751.8 583.5 L753.3 582.0 L754.0 580.9 L756.3 579.4 L757.8 577.1 L760.0 576.4 L762.3 577.1 L765.3 577.5 L766.0 576.0 L769.0 573.0 L770.5 571.9 L775.8 571.1 L778.0 568.5 L780.3 565.5M748.4 591.4 L751.0 588.8 L752.5 585.8 L754.0 585.0 L755.5 583.5 L757.8 582.8 L760.0 582.0 L762.3 579.8 L764.5 578.3 L766.0 579.0 L769.8 579.0 L772.0 577.5 L774.3 575.3 L776.5 576.0 L778.8 573.4 L780.3 574.5 L781.8 574.9 L784.8 572.3 L787.0 572.3 L788.5 570.0 L790.0 567.8M767.5 562.5 L769.0 559.5 L770.5 558.4 L772.8 559.1 L773.5 555.8 L775.0 555.4 L776.1 552.0 L777.6 553.1 L779.5 558.0 L780.3 561.0 L779.5 564.0 L778.0 565.1 L774.3 565.5 L772.8 564.0 L772.0 563.3 L770.5 564.4 L768.3 564.0 L767.5 562.5ZM780.3 564.8 L781.8 556.5 L780.6 554.6 L780.6 551.3 L782.5 548.3 L784.8 545.3 L786.3 542.3 L787.8 541.5 L789.3 543.0 L788.5 547.5 L785.5 551.3 L785.1 553.5 L786.3 556.5 L786.3 561.8 L784.8 567.0M797.3 549.3 L798.7 547.7 L799.7 546.0 L799.3 542.0 L800.0 538.7 L802.7 538.0 L804.0 538.0 L804.3 536.7 L802.7 535.3 L802.3 534.7 L805.3 532.7 L806.7 532.0 L808.7 532.7 L811.3 535.3 L812.3 537.3 L812.0 540.0 L810.7 541.3 L810.3 544.0 L811.3 546.0 L810.7 546.7 L808.7 546.7 L806.0 546.0 L805.3 545.3 L804.0 546.7 L802.7 549.3 L801.3 551.3 L800.0 550.7 L798.0 549.7 L797.3 549.3ZM785.3 564.7 L787.3 562.7 L788.7 561.3 L789.0 558.0 L790.7 556.3 L792.7 557.3 L793.7 560.0 L793.7 564.7 L793.3 567.3M772.3 595.0 L772.7 591.3 L774.7 588.0 L776.7 586.7 L780.0 588.0 L782.0 587.0 L782.0 585.3 L779.7 584.7 L778.7 583.3 L780.7 581.3 L783.3 579.3 L786.7 578.0 L788.0 578.0 L788.3 583.3 L789.3 586.7 L790.3 589.0 L790.7 585.3 L792.0 583.3 L791.3 582.0 L789.7 579.3 L789.3 576.0 L790.7 573.7 L792.7 572.3 L795.3 572.7 L798.0 574.0 L800.0 573.3 L804.0 572.0 L806.3 571.0 L804.7 570.0 L800.0 570.7 L795.3 570.7 L793.3 570.0 L793.3 567.3 L794.7 565.3 L797.3 563.3 L800.7 562.3 L802.7 560.7 L804.7 558.0 L805.7 555.3 L806.0 552.7 L807.3 549.3 L809.3 548.0 L812.7 546.7 L813.3 545.3 L812.7 543.3 L813.0 540.0 L813.7 538.0 L815.3 536.7 L816.7 538.7 L818.0 540.7 L820.0 541.3 L822.7 541.0 L822.0 540.0 L820.0 538.0 L819.3 536.0 L820.0 534.7 L822.7 534.0 L824.3 532.0 L824.7 530.0M824.0 531.3 L824.7 528.0 L826.7 526.0 L829.3 525.3 L832.7 524.7 L833.0 526.7 L832.7 530.7 L832.0 534.7 L831.7 537.7 L832.7 536.0 L833.3 532.0 L834.0 528.7 L835.3 525.3 L836.3 522.7 L838.0 520.7 L840.0 519.3 L840.7 520.7 L840.0 526.7 L839.3 532.0 L838.0 537.3 L837.0 540.7 L839.3 538.7 L841.3 536.0 L843.3 533.3 L845.3 534.0 L844.0 531.3 L842.7 528.7 L842.7 525.3 L843.3 521.3 L845.3 520.3 L848.0 520.3 L849.3 521.3 L850.7 520.7 L851.3 519.0 L852.7 516.7 L854.0 518.0 L856.7 520.7 L859.3 523.3 L860.0 522.0 L859.3 518.0 L858.7 516.0 L856.7 514.7 L854.7 513.3 L852.7 510.7 L852.7 508.7 L855.3 508.3 L857.3 509.0 L858.7 507.3 L861.3 506.7 L863.3 506.3 L864.7 507.3 L866.0 505.3 L868.7 504.0 L870.7 504.7 L872.0 506.7 L872.7 510.0 L873.3 513.3 L874.7 515.3 L876.7 517.3 L877.3 516.0 L876.0 513.3 L876.0 510.0 L877.3 506.7 L879.3 504.0 L880.0 502.7M812.3 536.0 L811.3 534.0 L808.7 532.7 L806.0 532.0 L805.3 532.7 L802.7 534.7 L802.3 536.0 L804.0 537.3 L804.7 538.7 L802.7 539.3 L800.0 538.7M812.7 531.3 L814.7 529.3 L815.7 526.0 L817.3 525.0 L820.0 524.3 L819.7 522.0 L821.3 519.3 L822.7 517.0 L824.3 516.0 L824.3 511.3 L825.7 508.3 L826.7 509.3 L827.0 514.7 L828.0 516.0 L830.7 516.0 L831.3 516.7 L829.3 520.0 L828.0 522.7 L825.3 524.0 L823.3 526.7 L822.0 529.3 L820.7 532.0 L818.0 532.7 L814.7 533.3 L812.7 532.7 L812.7 531.3ZM831.3 507.3 L832.7 507.3 L834.7 510.0 L836.7 512.0 L836.3 514.3 L834.7 515.0 L833.3 514.0 L832.0 510.7 L831.3 507.3ZM841.3 510.7 L843.3 509.3 L846.0 509.7 L846.3 512.7 L845.3 515.3 L843.3 515.3 L841.3 514.0 L841.0 512.0 L841.3 510.7ZM814.0 536.0 L816.0 537.3 L818.0 540.0 L820.0 541.3 L822.7 541.0 L822.0 539.7 L820.0 538.0 L819.3 536.0 L820.0 534.7 L822.7 534.0 L824.0 531.3M860.5 493.5 L865.0 493.2 L866.0 492.0 L870.0 491.2 L872.5 491.2 L874.5 488.5 L877.5 487.0 L878.2 488.5 L877.0 491.0 L875.0 494.0 L873.5 496.0 L871.0 497.2 L868.5 497.5 L866.0 499.2 L863.5 498.0 L861.5 496.0 L860.5 493.5ZM871.0 503.5 L871.5 501.5 L873.0 499.5 L875.0 499.0 L877.0 497.5 L879.5 495.5 L880.5 497.0 L880.5 500.0 L880.0 501.5 L877.5 504.5 L875.0 507.0 L873.8 504.5 L872.5 504.0 L871.0 503.5ZM852.0 509.5 L853.0 508.5 L856.0 508.5 L857.5 509.0 L860.0 507.5 L863.0 506.5 L864.5 508.0 L865.5 506.0 L866.5 504.5 L869.0 504.2 L871.0 505.0 L872.0 507.0 L872.5 511.0 L873.5 514.0 L875.0 516.5 L876.0 517.0M877.5 517.0 L876.5 515.0 L876.0 512.0 L877.0 509.5 L878.5 507.0 L880.5 504.0 L882.5 501.5 L884.5 500.0M880.3 490.7 L882.3 490.0 L885.0 492.7 L886.0 495.3 L885.7 497.3 L884.0 498.0 L882.0 496.7 L881.0 495.3 L880.7 492.7 L880.3 490.7ZM902.0 476.0 L904.7 475.3 L908.7 476.7 L911.0 479.3 L910.0 481.3 L906.7 482.3 L904.0 481.7 L901.3 479.3 L902.0 476.0ZM884.5 500.0 L886.0 498.7 L886.3 496.7 L887.3 494.7 L889.3 492.0 L890.0 490.7 L888.3 488.7 L888.7 486.7 L891.3 483.3 L893.7 480.3 L896.7 482.7 L899.3 485.3 L900.7 486.3 L902.0 484.3 L904.7 484.7 L906.3 486.7 L905.3 488.7 L903.3 491.3 L900.7 495.3 L899.3 499.3 L899.0 504.7 L897.3 508.7 L896.7 511.3 L897.3 513.3 L899.3 512.7 L901.3 510.7 L902.7 508.0 L902.7 504.7 L905.3 500.7 L908.7 495.3 L911.3 490.7 L914.0 486.7 L916.7 483.3 L918.0 484.0 L918.0 488.0 L917.3 491.3 L916.7 493.3 L917.3 495.3 L916.7 498.7 L916.7 502.7 L919.3 500.7 L921.3 499.3 L922.0 496.7 L923.3 492.7 L924.0 489.3 L925.3 488.0 L928.7 487.7 L928.0 486.7 L925.3 484.7 L924.0 482.7 L926.0 480.0 L929.0 477.3 L931.3 478.0 L935.3 479.3 L938.0 481.3 L938.7 483.3 L938.0 486.7 L935.3 488.7 L933.3 490.7 L932.7 492.7 L934.0 493.3 L936.7 492.7 L936.7 496.7 L936.0 502.0 L936.0 508.0 L936.7 503.3 L939.3 499.3 L940.0 494.0 L942.0 488.7 L944.0 486.0 L946.7 486.0 L949.3 488.0 L950.0 489.3M950.5 490.3 L953.3 491.7 L955.4 494.2 L957.5 492.4 L959.6 492.4 L961.0 494.5 L961.0 497.0 L964.5 498.0 L968.0 500.8 L970.1 504.3 L969.4 507.8 L965.9 509.2 L963.1 510.6 L961.0 512.7 L958.9 513.8 L955.4 513.8 L950.5 513.1 L944.2 512.0 L943.5 513.4 L947.0 515.5 L953.3 518.0 L954.0 520.4 L953.7 524.6 L954.7 526.4 L956.8 526.7 L958.2 525.3 L957.9 522.5 L956.1 520.4M960.3 523.2 L961.7 522.5 L962.4 526.0 L963.8 524.6 L968.0 525.0 L971.5 526.0 L976.4 528.1 L978.5 526.0 L980.6 523.2 L982.0 523.2 L982.4 519.4 L984.8 520.4 L989.0 523.2 L993.9 525.3 L995.3 528.1 L994.6 530.9 L990.4 530.9 L985.5 529.5 L983.4 530.2 L985.5 533.0 L987.6 535.1 L993.9 535.8 L996.0 537.9 L998.8 537.2 L1000.2 538.6 L1000.9 540.0M961.0 530.0 L964.0 533.0 L968.0 534.0 L969.5 531.0 L969.0 530.0M983.0 530.0 L985.0 532.0 L988.0 535.0 L994.0 537.0 L995.0 539.0 L999.0 537.0 L1000.0 540.0 L999.0 545.0 L997.0 549.0 L1000.0 548.0 L1002.0 544.0 L1004.0 541.5 L1007.0 541.0 L1008.0 541.0M981.0 612.5 L984.0 612.5 L989.0 613.0 L993.0 614.5 L994.0 618.0 L997.0 622.0 L1001.0 624.0 L1005.0 625.0 L1008.0 626.0M982.0 613.0 L987.0 615.0 L988.0 619.0 L991.0 623.0 L994.0 626.0 L996.0 627.0 L997.0 630.0M993.0 625.0 L996.0 627.0 L997.0 630.0 L1001.0 633.0 L1002.0 635.0 L1000.0 638.0 L1004.0 639.0 L1008.0 640.5M888.0 654.0 L891.0 654.0 L892.0 652.0 L892.5 655.0 L893.0 657.0 L896.0 659.0 L900.0 662.0 L901.5 663.5 L901.0 669.0 L900.5 674.0 L901.5 677.0 L900.5 681.0 L898.0 680.5 L895.0 681.0 L892.0 683.0 L890.0 687.0 L888.0 691.0M892.0 677.0 L894.0 675.0 L896.0 675.5 L896.0 677.5 L894.0 678.0 L892.0 677.0ZM862.0 660.0 L864.0 654.0 L866.0 651.5 L868.0 653.5 L869.5 651.5 L874.0 655.0 L876.0 654.0 L880.0 653.5 L886.0 654.0 L889.0 653.5 L892.0 652.0 L893.0 656.0 L896.0 658.0 L900.0 660.0M772.5 590.0 L773.1 595.6 L775.0 596.2 L778.1 593.8 L779.4 595.0 L778.1 598.1 L775.0 599.4 L771.9 602.5 L770.0 606.2 L768.8 608.8 L775.0 609.4 L780.0 610.0 L778.8 611.2 L771.2 611.9 L767.5 612.5 L763.8 613.8 L762.5 616.2 L760.0 618.8 L758.8 620.6 L761.2 622.5 L761.9 623.8 L758.8 624.4 L755.0 626.2 L753.1 628.8 L751.2 633.1 L751.9 637.5 L752.5 640.6 L757.5 640.0 L761.2 638.8 L763.1 639.4 L760.0 641.2 L756.2 642.5 L752.5 643.1 L748.8 644.4 L746.9 646.9 L746.2 651.2 L743.8 655.6 L741.2 660.0 L740.0 665.0 L740.0 668.8 L742.5 671.2 L740.6 672.5 L736.2 674.4 L731.9 677.5 L730.0 680.0 L731.2 682.5 L733.1 683.1 L731.2 685.0 L726.2 688.1 L724.4 690.6 L721.2 693.1 L718.8 696.2 L715.0 701.9 L712.5 706.2 L710.0 708.8 L708.8 712.5 L709.4 715.0M743.1 645.0 L743.8 641.9 L745.0 641.2 L746.2 643.1 L746.9 645.0 L744.4 646.9 L743.1 645.0ZM747.5 645.6 L750.0 646.9 L750.6 649.4 L746.2 649.8 L743.8 649.4 L745.0 647.5 L747.5 645.6ZM723.8 680.0 L726.2 678.1 L729.4 678.1 L730.0 680.6 L725.0 681.2 L723.8 680.0ZM735.6 658.1 L736.5 657.2 L737.4 658.1 L736.5 659.0 L735.6 658.1ZM742.5 671.2 L744.4 673.8 L746.2 671.9 L750.0 667.5M725.6 707.5 L728.1 705.0 L731.2 704.4 L730.6 706.9 L729.4 709.4 L730.6 710.6 L728.8 711.9 L725.0 713.8 L721.9 715.0M837.5 715.0 L845.0 708.8 L850.0 698.8M890.0 654.5 L887.0 653.5 L884.0 654.5 L881.0 653.5 L876.0 654.0 L874.0 655.5 L872.0 654.5 L869.5 652.0 L867.5 653.5 L865.0 652.0 L864.0 659.0 L862.0 660.0 L859.5 662.0 L858.5 665.0 L855.0 665.5 L853.5 668.5 L855.0 670.0 L855.5 673.5 L853.5 677.0 L851.5 679.5 L850.0 682.5 L852.0 686.0 L853.0 690.0 L854.5 692.5 L854.0 695.0 L851.0 698.0 L848.5 700.5 L847.0 705.0 L845.0 709.5 L842.0 711.5 L839.0 714.5 L836.0 716.0 L834.0 718.0 L832.5 720.5 L829.5 720.0 L827.5 721.0 L826.0 724.0 L824.0 726.0 L821.5 726.5 L819.0 728.0 L818.0 731.0 L816.0 732.0 L817.0 734.5 L815.0 736.5 L812.0 738.0 L810.5 736.0 L811.0 740.0M890.0 687.0 L888.0 691.0 L885.0 694.5 L884.0 697.5 L881.0 701.0 L880.0 704.0 L876.0 708.0 L873.0 710.5 L870.0 714.0 L867.0 715.5 L866.0 719.0 L864.0 721.0 L864.5 724.0 L862.0 726.0 L859.0 727.0 L856.0 726.5 L855.0 728.0 L856.0 731.0 L854.0 733.0 L852.0 736.0 L850.0 740.0M849.5 725.5 L853.0 726.0 L853.5 727.5 L851.5 728.5 L849.5 727.0 L849.5 725.5ZM709.0 714.0 L711.0 715.5 L712.5 717.5 L714.0 721.0 L715.0 721.5 L719.0 720.0 L723.0 720.5 L722.5 718.0 L724.0 715.0 L728.0 712.5 L730.5 711.0 L730.5 709.0 L731.5 705.5 L730.0 704.5 L727.0 706.0 L725.5 707.5 L726.5 710.0 L725.0 712.0 L721.0 714.0 L717.0 717.0 L714.0 718.5 L711.5 716.5 L710.0 716.0 L706.0 717.0 L704.5 718.0 L704.0 720.0 L703.0 719.5 L703.0 717.0 L701.0 715.5 L698.0 715.0 L695.0 716.5 L694.0 719.0 L695.5 721.0 L697.0 722.0 L697.0 724.0 L695.0 725.0 L692.5 726.0 L691.5 728.0 L691.5 730.0 L694.0 732.5 L696.0 734.5 L697.5 736.5 L694.0 734.0 L691.0 731.0 L689.0 730.0 L686.0 729.5 L683.0 731.0 L681.0 732.5 L678.0 733.5 L676.0 735.0 L674.5 738.0 L674.5 740.0 L678.0 739.5 L681.0 740.0 L684.0 740.5 L687.0 740.0 L690.5 739.5 L687.0 740.5 L684.0 742.0 L685.0 744.0 L684.0 745.5 L681.0 744.0 L677.0 743.0 L673.0 742.5 L669.0 744.0 L668.0 746.0 L667.0 747.5 L669.0 748.0 L673.5 747.5 L671.0 749.5 L668.0 750.0 L666.0 749.5 L665.0 748.5 L662.5 748.5 L660.0 750.0 L658.5 752.0 L657.5 754.5 L655.0 755.0 L654.5 758.0 L655.0 760.0 L658.0 761.0 L663.0 762.5 L668.0 764.0 L674.0 762.5 L669.0 764.0 L665.0 764.0 L661.0 763.0 L657.0 761.5 L653.0 762.0 L652.0 765.0 L653.0 768.0 L655.0 770.0 L657.0 772.5 L654.5 773.5 L653.0 775.0 L653.0 778.0 L653.5 781.0 L657.0 782.5 L663.0 781.0 L668.0 781.5 L671.0 781.0 L672.5 778.0 L673.0 780.5 L678.0 780.0 L681.0 779.0 L682.0 776.0 L683.0 774.0 L682.0 777.0 L681.5 779.0 L684.0 780.0 L678.0 782.0 L677.0 784.0 L678.0 786.0 L676.0 783.0 L670.0 783.0 L665.0 782.5 L658.0 783.5 L654.0 783.0 L653.0 787.0 L653.5 792.0 L656.0 795.0 L660.0 792.5 L657.0 795.0 L654.0 798.0 L652.5 800.0M693.0 714.0 L695.0 712.5 L699.0 711.5 L699.5 713.5 L697.0 714.5 L693.0 714.0ZM687.5 721.5 L689.5 720.5 L691.5 721.5 L691.0 723.5 L689.0 723.5 L687.5 721.5ZM650.5 781.0 L651.5 780.0 L652.5 781.5 L651.5 783.0 L650.5 781.0ZM668.5 800.0 L672.0 798.0 L677.5 797.0M652.7 800.0 L653.0 804.3 L656.2 805.8 L661.3 806.3 L655.7 808.4 L654.7 812.4 L654.7 817.6 L660.3 817.0 L667.4 814.0 L664.4 815.5 L662.3 811.9 L665.4 805.3 L668.5 800.2 L672.6 798.2 L677.7 797.1M672.0 805.3 L673.1 800.2 L675.6 798.2M653.2 790.0 L654.2 793.1 L656.2 795.1 L660.3 792.6M654.7 817.6 L655.2 823.7 L654.7 828.8 L657.2 829.8 L660.3 826.7 L664.4 824.7 L670.5 820.6 L665.4 824.7 L663.9 827.8 L664.4 831.8 L666.4 834.9 L669.5 833.9 L666.4 835.9 L662.3 833.9 L659.8 833.4 L659.3 839.0 L660.3 843.1 L663.4 846.1 L667.4 849.2 L672.0 851.2 L673.6 854.3 L675.6 855.3 L678.7 856.3 L683.8 856.3 L688.9 854.8 L694.0 851.2 L698.1 847.1 L702.1 843.1 L706.2 839.0 L706.2 836.9 L709.3 834.9 L712.3 833.9 L715.4 833.9 L718.5 829.8 L720.0 824.7 L719.5 821.6 L721.0 820.6 L721.0 815.5 L721.5 820.6 L722.6 825.7 L724.6 828.8 L728.7 830.3 L729.7 839.0 L729.7 848.2 L731.7 851.2 L732.8 856.3 L734.8 858.4 L735.8 863.5 L737.9 868.6 L739.9 873.7 L743.0 879.8 L747.0 884.9 L749.1 888.0 L749.6 891.0M690.9 891.0 L693.0 888.0 L692.4 883.9 L695.0 878.8 L698.1 877.2 L706.2 875.7 L709.3 872.7 L712.3 867.6 L716.4 865.5 L721.0 863.0 L718.5 864.5 L720.0 867.6 L720.5 871.6 L720.5 874.7 L718.5 878.8 L717.4 883.9 L718.0 888.5 L719.5 889.5 L724.6 889.5M698.1 891.0 L700.1 882.9 L702.1 879.8 L704.2 878.8 L705.2 881.8 L704.2 885.9 L701.1 885.4 L698.1 886.9M724.6 873.2 L728.7 872.1 L726.6 874.2 L724.6 873.2ZM708.3 830.8 L711.3 833.9M811.5 740.0 L811.5 743.0 L809.0 745.5 L806.5 747.0 L804.5 746.5 L805.0 750.0 L806.5 753.0 L805.0 756.0 L804.0 762.0 L804.0 766.5 L801.5 767.0 L801.0 772.0 L801.5 778.0 L801.5 786.0 L802.5 792.0 L806.0 794.0 L809.0 796.0 L811.0 795.5 L813.0 799.0 L815.0 801.0 L818.0 803.0 L818.5 806.0 L821.0 808.0 L822.5 810.0 L823.0 814.0 L821.0 816.0 L819.0 819.0 L818.0 821.0 L815.0 823.0 L811.5 824.5 L812.0 826.0 L815.0 825.5 L817.0 826.0 L816.0 830.0M850.0 740.0 L849.5 745.0 L850.5 748.0 L852.0 751.0 L852.0 755.0 L851.5 759.0 L853.0 762.0 L854.5 765.0 L855.5 769.0 L854.5 772.0 L854.5 777.0 L853.5 781.0 L852.5 785.0 L853.0 789.0 L853.5 794.0 L851.0 794.0 L851.5 797.0 L853.5 796.5 L856.0 795.5 L858.0 795.0 L859.0 797.0 L860.0 799.0 L863.0 800.0 L865.0 801.0 L867.5 800.0 L867.5 804.0 L866.0 806.0 L867.0 809.0 L870.0 807.0 L871.0 804.5 L873.0 806.0 L874.0 808.0 L876.0 810.0 L878.5 810.0 L880.0 809.5M859.0 798.0 L861.0 801.0 L864.0 804.0 L866.0 806.0M830.0 804.0 L832.0 802.0 L834.0 800.0 L835.0 799.0 L837.0 801.0 L839.0 802.0 L839.5 804.0 L837.0 804.5 L836.0 807.0 L833.0 807.0 L831.0 806.0 L830.0 804.0ZM841.5 808.0 L843.0 808.5 L842.5 809.5 L841.5 809.0 L841.5 808.0ZM854.5 806.5 L857.0 805.0 L858.5 805.5 L856.5 807.0 L854.5 806.5ZM872.0 813.0 L875.0 811.0 L876.5 810.5 L874.0 813.0 L872.0 813.0ZM816.0 830.0 L815.5 832.0 L812.0 834.0 L808.0 836.0 L803.0 839.0 L799.0 841.5 L794.0 841.8 L790.0 842.0 L794.0 842.5 L797.0 844.0 L798.5 845.5 L796.0 847.0 L795.5 850.0 L795.5 856.0 L794.5 861.0 L794.5 868.0 L793.5 872.0 L793.0 876.0 L792.0 882.0 L790.0 888.0 L789.0 890.0M800.5 872.0 L799.5 876.0 L797.5 881.0 L795.5 887.0 L794.8 890.0M801.0 872.5 L798.5 880.0 L796.5 886.0 L795.7 890.0M813.0 866.0 L816.0 862.0 L820.0 860.0 L824.0 859.0 L827.0 857.5 L825.0 860.0 L823.0 862.0 L822.5 868.0 L822.5 871.0 L820.0 874.0 L817.0 877.0 L815.0 880.0 L814.0 881.0 L813.5 876.0 L813.0 872.0 L813.0 866.0ZM861.0 835.0 L866.0 834.5 L868.0 832.0 L870.0 833.0 L872.0 835.0 L871.5 838.0 L868.0 839.5 L866.0 838.0 L864.0 836.5 L861.0 835.0ZM859.0 846.0 L861.0 844.5 L864.0 843.5 L867.0 842.5 L872.0 842.0 L875.0 842.0 L877.0 845.5 L874.0 848.0 L871.0 850.0 L868.0 851.5 L865.0 852.0 L863.0 853.5 L862.0 856.0 L861.0 858.0 L860.0 856.0 L861.0 852.0 L859.0 850.0 L859.0 846.0ZM848.5 890.0 L849.0 884.0 L852.0 880.0 L854.0 876.0 L854.5 872.0 L856.0 868.0 L860.0 866.0 L864.0 865.0 L867.0 863.5 L869.0 866.0 L872.0 870.0 L874.0 874.0 L876.0 877.0 L880.0 878.0M880.0 809.7 L889.9 808.6 L892.1 806.4 L897.6 804.7 L904.2 802.0 L906.4 802.5 L908.6 798.1 L910.8 799.2 L915.2 798.1 L916.3 794.8 L916.3 798.7 L921.8 797.0 L924.0 796.5 L927.3 798.1 L931.7 796.5 L937.2 794.8 L940.0 793.2 L941.6 794.8 L941.1 798.1 L943.8 801.4 L947.1 804.7 L950.4 805.3 L954.8 804.7 L957.0 806.9 L958.7 810.2 L959.2 811.3 L954.8 810.2 L948.2 809.1 L946.0 812.4 L941.6 813.5 L939.4 814.1 L936.1 814.6 L933.9 815.7 L933.9 820.1 L935.0 823.4 L932.8 825.6 L931.7 830.0M880.0 826.7 L884.4 825.6 L888.8 822.9 L894.3 821.2 L903.1 820.7 L904.2 818.5 L909.7 819.6 L917.4 820.7 L921.8 822.9 L932.8 823.4M935.5 824.4 L933.2 823.2 L927.5 823.2 L920.6 822.6 L916.0 820.3 L907.9 818.6 L903.9 818.6 L902.2 820.3 L895.3 820.9 L888.4 822.6 L884.9 825.5 L879.2 827.2 L878.0 829.5 L878.0 835.3 L880.3 838.7 L879.2 841.6 L881.5 846.8 L884.9 849.7 L888.4 850.2 L890.1 847.9 L891.3 849.7 L890.1 853.7 L889.0 859.4 L889.5 865.2 L890.1 872.1 L888.4 875.5 L884.9 877.8 L881.5 880.1 L878.0 879.0 L874.6 875.5 L872.9 872.1 L871.1 867.5 L870.0 866.9M929.8 834.1 L930.9 838.7 L931.5 844.5 L929.8 847.9 L928.0 851.4M928.6 853.7 L932.1 852.5 L935.5 856.0 L935.5 859.4 L932.1 859.4 L929.8 857.1 L928.6 853.7ZM933.8 822.6 L934.4 815.7 L935.5 814.6 L937.8 815.7 L940.1 814.0 L943.6 813.4 L945.9 811.1 L947.0 810.0M956.2 810.0 L958.5 811.1 L960.8 810.6M870.0 834.1 L872.3 834.1 L872.9 837.6 L870.0 838.2M870.0 843.3 L874.6 841.0 L876.9 843.3 L875.7 845.6 L870.0 850.2M499.6 879.8 L500.3 879.2 L500.9 879.8 L500.3 880.4 L499.6 879.8ZM513.5 879.0 L514.2 878.4 L514.8 879.0 L514.2 879.6 L513.5 879.0Z" stroke="#000" stroke-width="1.1" fill="none" stroke-linejoin="round" stroke-linecap="round"/>
<path d="M908.0 535.0 L909.3 529.3 L912.7 525.3 L915.3 520.7 L918.0 519.7 L922.0 520.7 L924.0 520.0 L926.7 518.0 L928.7 515.3 L931.3 514.7 L933.3 516.0 L935.3 519.3 L938.0 522.7 L942.0 525.3 L946.0 528.0 L948.0 530.7 L949.3 535.0M968.4 525.3 L968.7 529.5 L968.0 533.7 L964.5 533.0 L961.0 529.5 L960.3 533.0 L958.9 536.5 L956.8 539.3M949.1 540.0 L949.8 536.5M909.0 530.0 L907.0 540.0 L906.0 545.0 L906.5 552.0 L905.0 554.5 L901.0 556.5 L899.0 559.0 L898.0 563.0 L896.0 566.0 L893.0 564.0 L888.0 561.5M948.0 530.0 L950.0 536.0 L948.0 540.0 L945.0 544.0 L944.0 549.0 L946.0 551.0 L939.0 555.5 L943.0 558.0 L942.0 562.0 L940.0 566.0 L939.5 569.0 L940.0 573.0 L942.0 579.0 L946.0 581.0 L950.0 583.5 L953.0 589.0 L957.5 595.0 L957.0 601.0 L953.0 607.0 L949.0 613.0 L946.5 619.0 L947.5 622.0 L951.0 630.0M946.0 551.0 L948.5 549.5 L950.5 543.0 L954.0 540.5 L958.0 538.5 L960.0 536.0 L960.0 530.0M948.0 625.0 L951.0 631.0 L954.0 638.0 L957.0 644.0 L958.5 650.0 L959.5 654.0 L959.0 657.0 L955.0 658.5 L954.0 664.0 L953.5 669.0 L956.0 672.0 L954.5 675.0 L953.0 677.0 L953.5 681.0 L956.0 683.0 L959.0 684.0 L959.5 687.0 L958.0 690.0 L959.0 694.0 L962.0 696.0 L964.5 699.0 L964.5 704.0 L962.0 709.0 L958.0 713.0 L962.0 718.0 L966.0 721.0 L970.0 725.0M845.3 550.3 L840.0 551.0 L837.0 551.7 L840.0 553.3 L840.7 557.3 L840.0 561.3 L838.3 565.0M845.3 550.3 L848.0 552.7 L850.7 556.7 L853.3 560.0 L855.3 564.0 L856.0 565.0M845.3 550.3 L848.0 549.7 L849.3 546.7 L850.7 543.7 L853.3 542.7 L856.0 543.0 L857.3 544.7 L859.3 548.0 L861.3 551.3 L863.3 555.3 L865.3 560.3 L867.3 561.7 L870.7 562.1 L873.3 563.3 L875.3 564.1 L878.0 563.0 L880.0 562.0M838.0 565.0 L839.0 570.0 L837.0 572.0 L836.0 574.0 L830.0 572.0 L825.0 569.5 L820.0 568.5 L816.0 566.5 L813.5 568.0 L813.5 575.0 L814.0 579.0 L812.0 583.0 L810.5 586.5 L807.0 584.5 L803.5 582.0 L800.0 585.5 L796.5 589.0 L795.5 593.0 L794.5 597.5 L792.0 600.0 L789.0 601.5 L788.5 603.0 L790.0 607.0 L792.0 610.0 L792.5 615.0 L790.0 618.0 L786.0 624.0 L783.0 629.0 L780.0 633.0M852.0 560.0 L854.0 563.0 L860.0 568.0 L863.0 569.5 L868.0 571.5 L871.0 573.0 L874.0 577.0 L874.5 580.0 L877.0 582.0 L880.0 587.0 L878.5 589.0 L878.5 594.0 L879.0 599.0 L878.0 602.5 L881.5 603.5 L882.0 607.0 L880.5 610.0 L880.5 615.0 L883.0 619.0 L884.5 623.0 L883.5 630.0 L881.0 634.0 L881.0 640.0 L883.0 643.0 L885.0 647.0 L886.5 653.0M796.2 590.0 L795.0 595.0 L792.5 600.0 L789.4 601.9 L791.2 606.2 L792.5 609.4 L792.5 615.0 L790.0 618.8 L786.2 623.8 L782.5 628.8 L780.0 632.5 L781.2 637.5 L780.0 640.0 L777.5 641.9 L773.8 643.1 L770.0 643.8 L769.4 646.2 L770.6 652.5 L770.0 658.8 L769.4 665.0 L768.8 668.8 L766.2 675.0 L763.8 680.0 L761.2 685.0 L758.8 689.4 L762.5 691.2 L764.4 693.8 L765.0 698.8 L764.4 702.5 L762.5 705.0 L758.8 704.4 L753.8 703.1 L750.0 703.8 L746.2 706.9 L743.8 711.2 L741.9 715.0M880.0 562.0 L884.0 562.5 L888.0 561.5M764.0 700.0 L762.0 705.0 L757.0 704.0 L753.0 703.5 L749.0 704.5 L746.0 707.0 L743.0 712.0 L740.5 717.0 L741.5 719.0 L740.0 722.0 L738.5 725.0 L739.5 729.0 L741.0 732.0 L739.5 735.0 L739.5 740.0 L739.5 744.0 L741.0 747.0 L742.0 751.0 L742.0 756.0 L741.0 761.0 L740.5 766.5 L743.0 769.0 L747.0 772.0 L749.5 776.0 L748.0 781.0 L747.0 783.0 L743.0 784.0 L741.5 785.5 L742.5 789.0 L744.0 793.0 L745.5 797.0 L746.0 800.0M728.7 830.3 L731.2 832.9 L732.8 835.9 L734.8 833.9 L735.8 828.8 L735.3 823.7 L734.8 819.6 L736.8 815.5 L737.9 812.4 L740.9 810.9 L744.0 808.9 L745.0 805.3 L745.5 799.2 L744.0 794.1 L743.0 790.0M963.6 720.0 L971.3 725.5 L976.8 734.3 L974.6 743.1 L972.4 747.5 L965.8 755.2 L959.2 764.0 L954.8 769.5 L949.3 777.2 L942.7 783.8 L937.2 789.3 L931.7 795.9M934.4 889.9 L932.1 884.7 L929.8 882.4 L930.9 877.8 L931.5 873.2 L928.6 869.8 L925.7 867.5 L926.3 864.0 L928.6 860.6 L930.9 858.3 L928.6 854.8 L927.5 850.2 L924.0 843.3 L921.7 838.7 L921.7 835.9 L925.2 833.6 L929.8 834.1 L930.9 831.8 L932.6 827.2 L935.5 824.4M889.0 859.4 L893.0 857.7 L898.7 855.4 L901.0 856.0 L904.5 858.3 L909.1 861.1 L912.5 865.2 L914.8 866.9 L920.6 866.3 L924.0 866.9 L926.3 867.5" stroke="#000" stroke-width="1.45" fill="none" stroke-linejoin="round" stroke-linecap="round"/>
<path d="M226.5 322V890M348.5 322V890M470.5 322V890M592.5 322V890M714.5 322V890M836.5 322V890M958.5 322V890M224 423.5H1007M224 517.5H1007M224 602.5H1007M224 677.5H1007M224 746.5H1007M224 810.5H1007M224 868.5H1007" stroke="#b0b0b0" stroke-width="1" fill="none"/>
</g>
<g stroke="#000" fill="none" stroke-linecap="butt">
<path d="M332.4 692.6 L342.4 692.6 M332.4 692.6 L328.9 704.2 M342.4 692.6 L346.4 704.2" stroke-width="1.5"/>
<path d="M328.7 704.4 H334.5 M340.3 704.4 H346.2" stroke-width="2.5"/>
<path d="M330.1 686.1 L332.2 691.8 M337.4 686.1 L337.4 692.2 M344.9 686.3 L342.6 691.8" stroke-width="1.5"/>
</g>
<rect x="223.5" y="321.5" width="784" height="569" fill="none" stroke="#000" stroke-width="1"/>
</svg>
</body></html>
